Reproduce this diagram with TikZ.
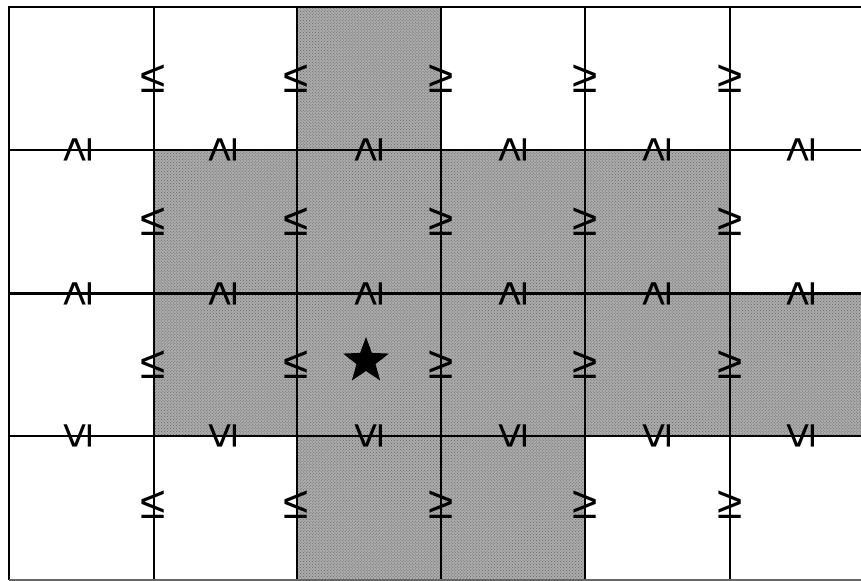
\documentclass[tikz,border=0pt]{standalone}
\usepackage{fontspec}
\setmainfont{Liberation Sans}
\usetikzlibrary{patterns, shapes.geometric}

\begin{document}
\begin{tikzpicture}[
        x=1bp, y=-1bp,
        grid/.style={line width=2.2bp, black},
        cellfill/.style={fill=black!33},
        celldots/.style={pattern=crosshatch dots, pattern color=black!60},
        rel/.style={inner sep=0pt, font=\fontsize{46}{46}\selectfont},
    ]
        \useasboundingbox (0,0) rectangle (861,581);

        % Shaded cells
        \foreach \a/\b/\c/\d in {297/7/441/150, 154/150/730/293.5, 154/293.5/861/436, 297/436/585/580} {
            \fill[cellfill] (\a,\b) rectangle (\c,\d);
            \fill[celldots] (\a,\b) rectangle (\c,\d);
        }

        % Grid
        \foreach \x in {154,297,441,585,730}
            \draw[grid] (\x,7) -- (\x,580);
        \foreach \y in {150,293.5,436}
            \draw[grid] (9,\y) -- (861,\y);
        \draw[line width=2.8bp] (861,7) -- (9,7) -- (9,580);
        \draw[line width=1.2bp, black!60] (9,580) -- (861,580);

        % Relations on vertical lines
        \foreach \y [count=\j] in {79,222,365,505} {
            \foreach \x [count=\i] in {153,296}
                \node[rel] (le-\i-\j) at (\x,\y) {≤};
            \foreach \x [count=\i] in {441,585,730}
                \node[rel] (ge-\i-\j) at (\x,\y) {≥};
        }

        % Relations on horizontal lines
        \foreach \x [count=\i] in {78,223,369,513,657,801} {
            \node[rel, rotate=90] (up-\i-1) at (\x,150) {≥};
            \node[rel, rotate=90] (up-\i-2) at (\x,293.5) {≥};
            \node[rel, rotate=90] (dn-\i) at (\x,436) {≤};
        }

        % Centre cell
        \node[star, star points=5, star point ratio=2.4, minimum size=48bp, inner sep=0pt, fill=black] (ctr) at (366,361) {};
    \end{tikzpicture}
\end{document}
